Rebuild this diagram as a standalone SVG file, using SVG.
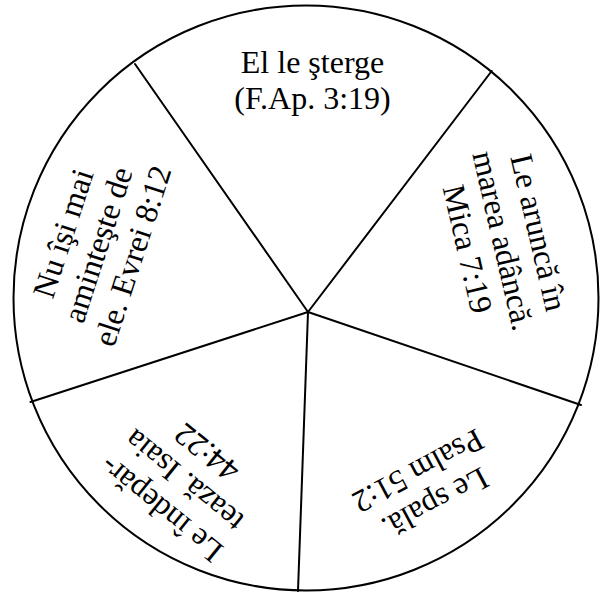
<svg xmlns="http://www.w3.org/2000/svg" width="600" height="593" viewBox="0 0 600 593">
<style>
.ln{stroke:#000;stroke-width:2;fill:none;stroke-linecap:round}
.t{font-family:"Liberation Serif","Times New Roman",serif;font-size:32px;fill:#000;text-anchor:middle}
</style>
<rect width="600" height="593" fill="#fff"/>
<g id="wheel">
<circle class="ln" cx="306" cy="298" r="292.5"/>
</g>
<g id="connectors">
<line class="ln" x1="308" y1="312" x2="135" y2="64"/>
<line class="ln" x1="308" y1="312" x2="491.7" y2="71"/>
<line class="ln" x1="308" y1="312" x2="581" y2="405"/>
<line class="ln" x1="308" y1="312" x2="298" y2="591"/>
<line class="ln" x1="308" y1="312" x2="30.5" y2="402"/>
</g>
<g id="node-top">
<text class="t" x="312.5" y="73.3">El le şterge</text>
<text class="t" x="312.5" y="108.5">(F.Ap. 3:19)</text>
</g>
<g id="node-right" transform="translate(502 241) rotate(77)">
<text class="t" x="0" y="-27">Le aruncă în</text>
<text class="t" x="0" y="9.5">marea adâncă.</text>
<text class="t" x="0" y="46">Mica 7:19</text>
</g>
<g id="node-bottom-right" transform="translate(426 486) rotate(152)">
<text class="t" x="0" y="-8.75">Le spală.</text>
<text class="t" x="0" y="27.5">Psalm 51:2</text>
</g>
<g id="node-bottom-left" transform="translate(184.5 480) rotate(-141)">
<text class="t" x="0" y="-27">Le îndepăr-</text>
<text class="t" x="0" y="9.5">tează. Isaia</text>
<text class="t" x="0" y="46">44:22</text>
</g>
<g id="node-left" transform="translate(99 245) rotate(-72)">
<text class="t" x="0" y="-27">Nu îşi mai</text>
<text class="t" x="0" y="9.5">aminteşte de</text>
<text class="t" x="0" y="46">ele. Evrei 8:12</text>
</g>
</svg>
